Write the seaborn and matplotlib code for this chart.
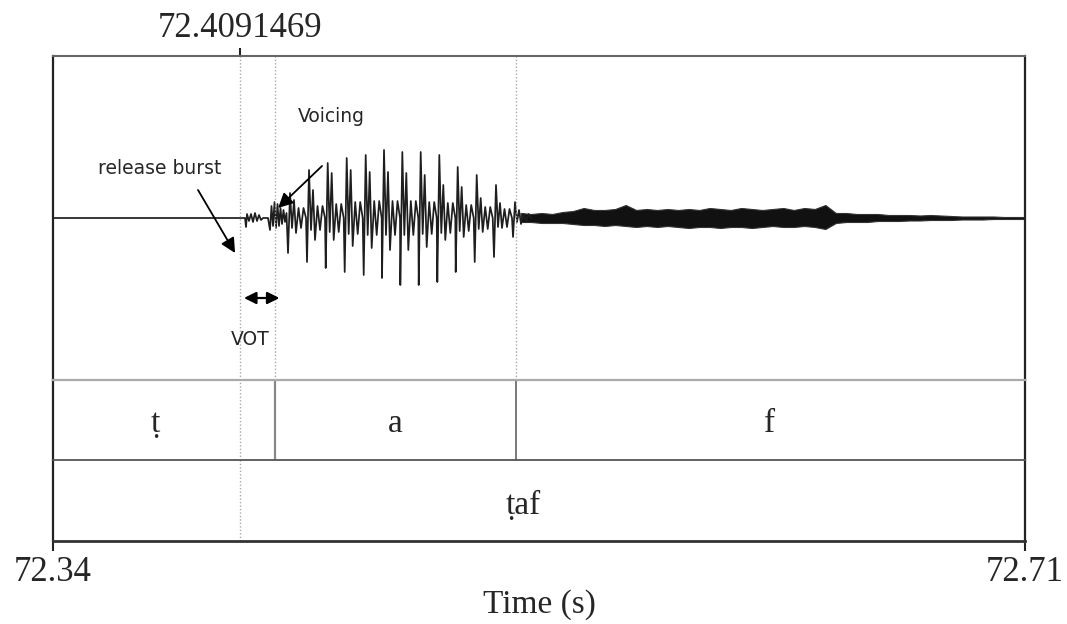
import numpy as np
import pandas as pd
import matplotlib
matplotlib.use("Agg")
import matplotlib.pyplot as plt
import seaborn as sns

sns.set_style("white")
plt.rcParams['font.family'] = ['Liberation Serif', 'DejaVu Serif']

# ---- data ----
t_start, t_end = 72.34, 72.71
cursor_t = 72.4112            # dotted cursor, labelled with its value below
cursor_label = "72.4091469"
phone_bounds = [72.4245, 72.5163]
phone_labels = ["ṭ", "a", "f"]
phone_label_t = [72.3788, 72.4702, 72.6129]
word_label = "ṭaf"
word_label_t = 72.5189

# waveform, time in ms after 72.34, amplitude in arbitrary units
closure_ms = [0.0, 73.0]
closure_amp = [0, 0]
burst_ms = [73.09, 73.47, 73.85, 74.61, 75.37, 76.13, 76.89, 77.66, 78.42, 79.18, 79.94, 81.84]
burst_amp = [0, -9, 4, -3, 4, -4, 5, -3, 3, -2, 0, 0]
onset_ms = [82.60, 83.17, 83.75, 84.32, 84.89, 85.46, 86.03, 86.60, 87.17, 87.74, 88.31, 88.88]
onset_amp = [-12, 12, -8, 16, -10, 14, -8, 10, -6, 8, -4, 5]

pulse_ms = [90.22, 97.45, 104.57, 111.80, 119.03, 126.00, 132.97, 139.97, 147.05, 154.05, 161.29, 168.63, 175.87]
pulse_top = [25, 48, 55, 60, 63, 68, 66, 66, 63, 51, 43, 33, 16]
pulse_bottom = [-35, -44, -50, -54, -57, -60, -67, -67, -64, -54, -44, -39, -19]
second_peak = [18, 28, 45, 48, 46, 46, 45, 43, 33, 31, 20, 15, 8]
second_trough = [-15, -22, -22, -28, -30, -32, -32, -29, -22, -19, -14, -10, -6]
tail_amp = [10, 12, 14, 16, 17, 17, 17, 16, 15, 13, 11, 9, 4]

fric_ms = [178, 182, 186, 190, 194, 198, 202, 206, 210, 214, 218, 222, 226, 230, 234, 238,
           242, 246, 250, 254, 258, 262, 266, 270, 274, 278, 282, 286, 290, 294, 298, 302,
           306, 310, 314, 318, 322, 326, 330, 334, 338, 342, 346, 350, 354, 358, 362, 366, 370]
fric_up = [5, 4, 5, 4, 6, 7, 10, 8, 8, 9, 13, 8, 9, 8, 9, 8,
           9, 8, 10, 9, 8, 10, 9, 8, 9, 10, 8, 10, 9, 13, 5, 5,
           4, 4, 4, 3, 3, 3, 2.5, 3, 2.5, 2, 1.5, 1.5, 1.5, 1.5, 1, 1, 1]
fric_dn = [4, 4, 5, 5, 5, 6, 7, 7, 8, 7, 8, 9, 8, 9, 8, 9,
           10, 9, 9, 10, 9, 9, 10, 9, 8, 9, 9, 8, 9, 11, 5, 4,
           4, 4, 3, 3, 3, 2.5, 2.5, 2, 2, 2, 1.5, 1.5, 1.5, 1, 1, 1, 1]

# order of samples inside one glottal period
shape_ms = [-0.76, 0.0, 0.76, 1.52, 2.28, 3.24, 4.19, 5.14, 6.09]

ms, amp = [], []
ms += closure_ms + burst_ms + onset_ms
amp += closure_amp + burst_amp + onset_amp
for i, p in enumerate(pulse_ms):
    vals = [pulse_bottom[i], pulse_top[i], -tail_amp[i], second_peak[i], second_trough[i],
            tail_amp[i], -tail_amp[i], tail_amp[i], 0]
    for off, v in zip(shape_ms, vals):
        ms.append(p + off)
        amp.append(v)
wave = pd.DataFrame({"time": t_start + np.array(ms) / 1000.0, "amp": amp})
fric_t = t_start + np.array(fric_ms) / 1000.0

# ---- figure ----
fig = plt.figure(figsize=(10.67, 6.24), dpi=100)
left, width = 53 / 1067, 972 / 1067
ax_w = fig.add_axes([left, 1 - 380 / 624, width, 324 / 624])
ax_p = fig.add_axes([left, 1 - 460 / 624, width, 80 / 624])
ax_t = fig.add_axes([left, 1 - 541 / 624, width, 81 / 624])

for ax in (ax_w, ax_p, ax_t):
    ax.set_xlim(t_start, t_end)
    ax.set_yticks([])
    ax.set_xticks([])
    for s in ("left", "right"):
        ax.spines[s].set_color("#222222")
        ax.spines[s].set_linewidth(1.6)
    ax.spines["bottom"].set_visible(False)
ax_w.spines["top"].set_color("#666666")
ax_w.spines["top"].set_linewidth(1.5)
ax_p.spines["top"].set_color("#aaaaaa")
ax_p.spines["top"].set_linewidth(1.6)
ax_t.spines["top"].set_color("#555555")
ax_t.spines["top"].set_linewidth(1.3)
ax_t.spines["bottom"].set_visible(True)
ax_t.spines["bottom"].set_color("#333333")
ax_t.spines["bottom"].set_linewidth(2)

# waveform
ax_w.set_ylim(-162, 162)
ax_w.fill_between(fric_t, -np.array(fric_dn), fric_up, color="#111111", lw=0.8,
                  edgecolor="#333333")
sns.lineplot(data=wave, x="time", y="amp", ax=ax_w, color="#1e1e1e", lw=1.25,
             estimator=None, sort=False)
ax_w.set_xlabel("")
ax_w.set_ylabel("")

# dotted cursors
for t in [cursor_t] + phone_bounds:
    ax_w.axvline(t, color="#aaaaaa", ls=(0, (1, 1.5)), lw=1)
for ax in (ax_p, ax_t):
    ax.axvline(cursor_t, color="#aaaaaa", ls=(0, (1, 1.5)), lw=1)

# phone tier
ax_p.set_ylim(0, 1)
ax_p.axvline(phone_bounds[0], color="#888888", lw=1.6)
ax_p.axvline(phone_bounds[1], color="#555555", lw=1.1)
for lab, t in zip(phone_labels, phone_label_t):
    ax_p.text(t, 0.45, lab, ha="center", va="center", fontsize=24)

# word tier
ax_t.set_ylim(0, 1)
ax_t.text(word_label_t, 0.43, word_label, ha="center", va="center", fontsize=24)

# axis ticks/labels
ax_t.set_xticks([t_start, t_end], ["72.34", "72.71"])
ax_t.tick_params(axis="x", bottom=True, length=7, width=1.5, color="#222222",
                 labelsize=25, pad=4)
ax_t.set_xlabel("Time (s)", fontsize=24, labelpad=0)

ax_w.set_xticks([cursor_t], [cursor_label])
ax_w.tick_params(axis="x", top=True, labeltop=True, bottom=False, labelbottom=False,
                 length=6, width=1.5, color="#222222", labelsize=25, pad=2)

# annotations
ann_font = dict(family=["DejaVu Sans"], fontsize=13.5)
head = dict(color="black", lw=1.3, mutation_scale=22, shrinkA=0, shrinkB=0)
ax_w.annotate("", xy=(72.4093, -35), xytext=(72.3952, 28),
              arrowprops=dict(arrowstyle="-|>", **head))
ax_w.text(72.3807, 49, "release burst", ha="center", va="center", **ann_font)
ax_w.annotate("", xy=(72.4257, 10), xytext=(72.4424, 52),
              arrowprops=dict(arrowstyle="-|>", **head))
ax_w.text(72.4458, 101, "Voicing", ha="center", va="center", **ann_font)
ax_w.annotate("", xy=(72.4127, -80), xytext=(72.4262, -80),
              arrowprops=dict(arrowstyle="<|-|>", color="black", lw=1.6,
                              mutation_scale=18, shrinkA=0, shrinkB=0))
ax_w.text(72.4150, -122, "VOT", ha="center", va="center", **ann_font)

fig.savefig("out.png", dpi=100)
